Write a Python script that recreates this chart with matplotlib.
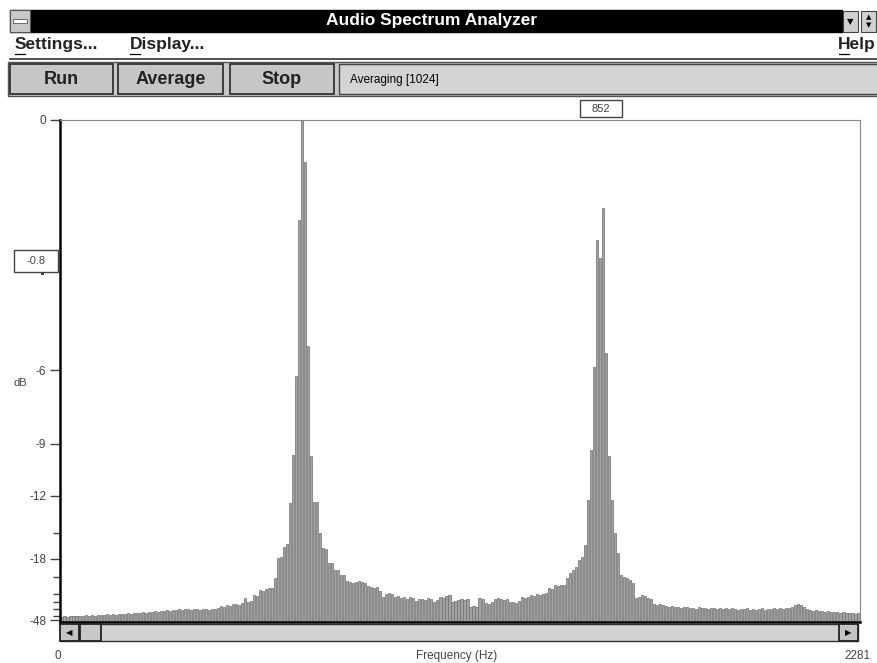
import numpy as np
import matplotlib.pyplot as plt
from matplotlib.patches import Rectangle
from matplotlib.lines import Line2D

# spectrum data: linear magnitude (1.0 = 0 dB) for 266 bins over 0..2281 Hz
f_max = 2281
mag = [
    0.010, 0.011, 0.010, 0.012, 0.011, 0.012, 0.011, 0.012, 0.013, 0.012,
    0.013, 0.012, 0.014, 0.013, 0.014, 0.015, 0.014, 0.015, 0.014, 0.016,
    0.015, 0.016, 0.017, 0.016, 0.018, 0.017, 0.018, 0.019, 0.018, 0.020,
    0.019, 0.021, 0.020, 0.022, 0.021, 0.023, 0.022, 0.024, 0.023, 0.025,
    0.024, 0.026, 0.025, 0.024, 0.026, 0.025, 0.024, 0.026, 0.025, 0.024,
    0.026, 0.025, 0.028, 0.032, 0.030, 0.033, 0.031, 0.035, 0.036, 0.034,
    0.038, 0.048, 0.040, 0.042, 0.054, 0.052, 0.064, 0.062, 0.066, 0.068,
    0.068, 0.088, 0.128, 0.130, 0.150, 0.155, 0.237, 0.333, 0.490, 0.800,
    1.000, 0.916, 0.550, 0.330, 0.240, 0.240, 0.177, 0.147, 0.145, 0.118,
    0.118, 0.104, 0.104, 0.094, 0.094, 0.082, 0.080, 0.078, 0.080, 0.081,
    0.080, 0.078, 0.072, 0.070, 0.068, 0.070, 0.062, 0.050, 0.055, 0.058,
    0.056, 0.050, 0.052, 0.048, 0.050, 0.046, 0.050, 0.048, 0.042, 0.046,
    0.046, 0.044, 0.048, 0.046, 0.040, 0.044, 0.050, 0.048, 0.052, 0.054,
    0.040, 0.042, 0.044, 0.046, 0.044, 0.046, 0.030, 0.032, 0.030, 0.048,
    0.046, 0.038, 0.036, 0.040, 0.046, 0.048, 0.046, 0.044, 0.046, 0.040,
    0.040, 0.038, 0.042, 0.050, 0.048, 0.050, 0.054, 0.052, 0.056, 0.054,
    0.056, 0.058, 0.068, 0.066, 0.074, 0.072, 0.074, 0.074, 0.088, 0.098,
    0.104, 0.110, 0.124, 0.130, 0.153, 0.243, 0.343, 0.508, 0.760, 0.725,
    0.825, 0.536, 0.330, 0.243, 0.177, 0.137, 0.094, 0.090, 0.088, 0.084,
    0.078, 0.048, 0.050, 0.054, 0.052, 0.048, 0.046, 0.036, 0.034, 0.036,
    0.034, 0.032, 0.030, 0.031, 0.029, 0.030, 0.028, 0.030, 0.029, 0.028,
    0.028, 0.026, 0.029, 0.027, 0.028, 0.026, 0.028, 0.027, 0.025, 0.027,
    0.026, 0.028, 0.025, 0.027, 0.026, 0.024, 0.026, 0.025, 0.027, 0.024,
    0.026, 0.024, 0.025, 0.027, 0.024, 0.026, 0.025, 0.027, 0.026, 0.028,
    0.026, 0.027, 0.028, 0.030, 0.034, 0.036, 0.034, 0.030, 0.026, 0.024,
    0.022, 0.023, 0.021, 0.022, 0.020, 0.021, 0.019, 0.020, 0.019, 0.018,
    0.019, 0.018, 0.017, 0.018, 0.016, 0.017,
]
db_major = [0, -6, -9, -12, -18, -48]
db_minor = [-15, -21, -25, -28, -32, -38]
menu_items = ["Settings...", "Display..."]
buttons = ["Run", "Average", "Stop"]
status = "Averaging [1024]"

W, H = 878, 663
fig = plt.figure(figsize=(W / 100, H / 100), dpi=100)
fig.patch.set_facecolor("white")

ui = ["Liberation Sans Narrow", "Liberation Sans", "DejaVu Sans"]
sans = ["Liberation Sans", "DejaVu Sans"]


def box(x0, y0, x1, y1, **kw):
    r = Rectangle((x0 / W, 1 - y1 / H), (x1 - x0) / W, (y1 - y0) / H,
                  transform=fig.transFigure, **kw)
    fig.patches.append(r)


def txt(x, y, s, **kw):
    fig.text(x / W, 1 - y / H, s, **kw)


def hline(x0, x1, y, **kw):
    fig.lines.append(Line2D([x0 / W, x1 / W], [1 - y / H, 1 - y / H],
                            transform=fig.transFigure, **kw))


# title bar
box(10, 10, 842, 32, facecolor="black", edgecolor="black")
box(10, 10, 30, 32, facecolor="#c8c8c8", edgecolor="#555555", lw=0.8)
box(13, 19, 27, 23, facecolor="white", edgecolor="#555555", lw=0.6)
txt(432, 21, "Audio Spectrum Analyzer", color="white", fontsize=12.5,
    fontweight="bold", ha="center", va="center", family=ui)
box(843, 11, 858, 32, facecolor="#d0d0d0", edgecolor="#444444", lw=0.8)
txt(850.5, 22, "▼", fontsize=6, ha="center", va="center")
box(861, 11, 876, 32, facecolor="#d0d0d0", edgecolor="#444444", lw=0.8)
txt(868.5, 17.5, "▲", fontsize=5, ha="center", va="center")
txt(868.5, 25.5, "▼", fontsize=5, ha="center", va="center")

# menu bar
hline(10, 878, 58.5, color="#333333", lw=1.2)
for label, x in zip(menu_items, [15, 130]):
    txt(x, 45, label, fontsize=12.5, fontweight="bold", ha="left",
        va="center", family=ui, color="#222222")
    hline(x, x + 10, 53.5, color="black", lw=0.9)
txt(876, 45, "Help", fontsize=12.5, fontweight="bold", ha="right",
    va="center", family=ui, color="#222222")
hline(839, 849, 53.5, color="black", lw=0.9)

# button bar
box(8, 62, 878, 96, facecolor="#c8c8c8", edgecolor="#555555", lw=1)
for label, (x0, x1) in zip(buttons, [(10, 113), (118, 223), (230, 334)]):
    box(x0, 64, x1, 94, facecolor="#c6c6c6", edgecolor="#333333", lw=1.3)
    txt((x0 + x1) / 2, 80, label, fontsize=13, fontweight="bold",
        ha="center", va="center", family=ui, color="#222222")
box(339, 64, 878, 94, facecolor="#d4d4d4", edgecolor="#444444", lw=1)
txt(350, 80, status, fontsize=8.5, ha="left", va="center", family=sans)

# spectrum plot
ax = fig.add_axes([60 / W, 1 - 622 / H, 800 / W, 502 / H])
n = len(mag)
df = f_max / n
freqs = (np.arange(n) + 0.5) * df
ax.bar(freqs, mag, width=df * 0.7, color="#a2a2a2", edgecolor="#6e6e6e",
       linewidth=0.5)
ax.set_xlim(0, f_max)
ax.set_ylim(0, 1)
ax.set_xticks([])
ax.set_yticks([10 ** (d / 20) for d in db_major])
ax.set_yticklabels([str(d) for d in db_major], fontsize=8.5, color="#444444",
                   family=sans)
ax.set_yticks([10 ** (d / 20) for d in db_minor], minor=True)
ax.tick_params(axis="y", which="major", length=7, width=1, pad=3,
               color="#444444")
ax.tick_params(axis="y", which="minor", length=5, width=1, color="#444444")
ax.set_ylabel("dB", rotation=0, fontsize=8, color="#444444", family=sans)
ax.yaxis.set_label_coords(-40 / 800, (622 - 388) / 502)
ax.spines["left"].set_linewidth(1.8)
ax.spines["bottom"].set_linewidth(1.8)
ax.spines["top"].set_color("#888888")
ax.spines["right"].set_color("#888888")

# cursor readouts
box(14, 250, 58, 272, facecolor="white", edgecolor="#444444", lw=1, zorder=3)
txt(36, 261, "-0.8", fontsize=8, ha="center", va="center", family=sans,
    color="#444444", zorder=4)
box(41, 273, 44, 275, facecolor="#444444", edgecolor="none", zorder=3)
box(580, 100, 622, 117, facecolor="white", edgecolor="#444444", lw=1, zorder=3)
txt(601, 108.5, "852", fontsize=8, ha="center", va="center", family=sans,
    color="#444444", zorder=4)

# scroll bar
box(60, 624, 858, 641, facecolor="#d2d2d2", edgecolor="#333333", lw=1)
box(60, 624, 79, 641, facecolor="#c4c4c4", edgecolor="#222222", lw=1.3)
txt(69.5, 632.5, "◀", fontsize=6, ha="center", va="center")
box(80, 624, 101, 641, facecolor="#c8c8c8", edgecolor="#222222", lw=1.3)
box(839, 624, 858, 641, facecolor="#c4c4c4", edgecolor="#222222", lw=1.3)
txt(848.5, 632.5, "▶", fontsize=6, ha="center", va="center")

# frequency axis labels
txt(58, 656, "0", fontsize=8.5, ha="center", va="center", family=sans,
    color="#444444")
txt(457, 656, "Frequency (Hz)", fontsize=8.5, ha="center", va="center",
    family=sans, color="#444444")
txt(858, 656, str(f_max), fontsize=8.5, ha="center", va="center",
    family=sans, color="#444444")

plt.savefig("out.png", dpi=100)
plt.close()
